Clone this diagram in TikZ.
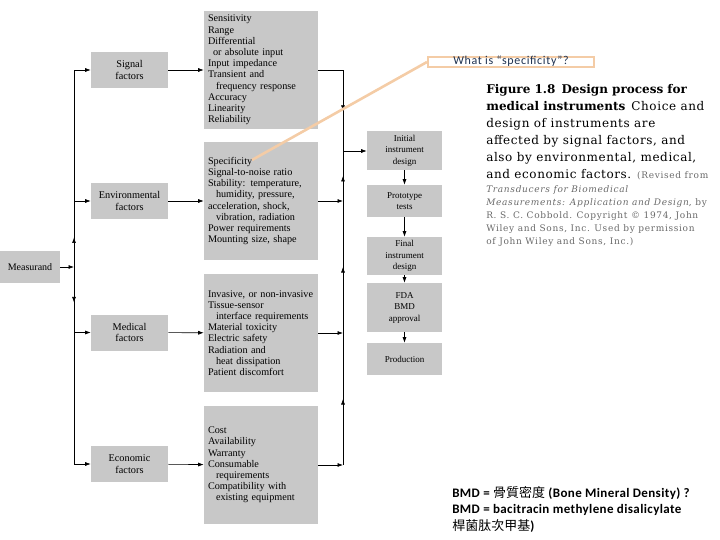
\documentclass[tikz,border=0pt]{standalone}
\usepackage{fontspec}
\setmainfont{Liberation Serif}
\newfontfamily\capfont{DejaVu Serif}
\newfontfamily\capwide{DejaVu Serif}[LetterSpace=5]
\newfontfamily\citefont{DejaVu Serif}[LetterSpace=7.5]
\newfontfamily\notefont{Carlito}[LetterSpace=3]
\newfontfamily\callfont{Carlito}[LetterSpace=5.5]
\newfontfamily\cjk{Noto Sans CJK TC}
\usepackage{tikz}
\usetikzlibrary{arrows.meta}
\usetikzlibrary{decorations.markings}
\definecolor{boxgray}{RGB}{200,200,200}
\definecolor{peach}{RGB}{244,204,166}
\definecolor{navy}{RGB}{31,50,80}
\definecolor{citegray}{RGB}{105,105,105}
\tikzset{
    >={Latex[length=5.5pt,width=4pt]},
    factorbox/.style={fill=boxgray, minimum width=77pt, minimum height=36pt, align=center,
        inner sep=1pt, font=\fontsize{10.3}{11.5}\selectfont},
    listbox/.style={fill=boxgray, minimum width=114pt, minimum height=118pt, text width=110pt,
        align=left, inner xsep=2pt, font=\fontsize{10.2}{11.2}\selectfont},
    stagebox/.style={fill=boxgray, minimum width=75pt, minimum height=#1, align=center,
        inner sep=1pt, font=\fontsize{9}{11.5}\selectfont},
    link/.style={line width=0.6pt},
    ->-/.style={decoration={markings, mark=at position #1 with {\arrow{>}}},
        postaction={decorate}},
    ->-/.default=.5}

\begin{document}
\begin{tikzpicture}[x=1pt, y=-1pt, link]
        \useasboundingbox (0,0) rectangle (720,540);

                    \node[fill=boxgray, minimum width=60pt, minimum height=32pt, font=\fontsize{10}{11}\selectfont] (measurand) at (30,267) {Measurand};

                    \node[factorbox] (sig) at (129.5,70) {Signal\\factors};
                    \node[factorbox] (env) at (129.5,201) {Environmental\\factors};
                    \node[factorbox] (med) at (129.5,332.5) {Medical\\factors};
                    \node[factorbox] (eco) at (129.5,464) {Economic\\factors};

                    \node[listbox] (sigl) at (261,70) {\hspace*{2pt}Sensitivity\\\hspace*{2pt}Range\\\hspace*{2pt}Differential\\\hspace*{7pt}or absolute input\\\hspace*{2pt}Input impedance\\\hspace*{2pt}Transient and\\\hspace*{10pt}frequency response\\\hspace*{2pt}Accuracy\\\hspace*{2pt}Linearity\\\hspace*{2pt}Reliability};
                    \node[listbox] (envl) at (261,201) {\hspace*{2pt}Specificity\\\hspace*{2pt}Signal-to-noise ratio\\\hspace*{2pt}Stability: temperature,\\\hspace*{10pt}humidity, pressure,\\\hspace*{2pt}acceleration, shock,\\\hspace*{10pt}vibration, radiation\\\hspace*{2pt}Power requirements\\\hspace*{2pt}Mounting size, shape};
                    \node[listbox] (medl) at (261,333) {\hspace*{2pt}Invasive, or non-invasive\\\hspace*{2pt}Tissue-sensor\\\hspace*{10pt}interface requirements\\\hspace*{2pt}Material toxicity\\\hspace*{2pt}Electric safety\\\hspace*{2pt}Radiation and\\\hspace*{10pt}heat dissipation\\\hspace*{2pt}Patient discomfort};
                    \node[listbox] (ecol) at (261,465) {\hspace*{2pt}Cost\\\hspace*{2pt}Availability\\\hspace*{2pt}Warranty\\\hspace*{2pt}Consumable\\\hspace*{10pt}requirements\\\hspace*{2pt}Compatibility with\\\hspace*{10pt}existing equipment};

                    \node[stagebox=39pt] (init) at (404.5,150.5) {Initial\\instrument\\design};
                    \node[stagebox=32pt] (proto) at (404.5,201) {Prototype\\tests};
                    \node[stagebox=38pt] (final) at (404.5,256) {Final\\instrument\\design};
                    \node[stagebox=49pt] (fda) at (404.5,307.5) {FDA\\BMD\\approval};
                    \node[stagebox=32pt] (prod) at (404.5,359) {Production};

                    \coordinate (mjoin) at (74,267);
                    \coordinate (ltop) at (74,70);
                    \coordinate (lbot) at (74,464);
                    \coordinate (rtop) at (343,70);
                    \coordinate (rbus) at (343,151);

                    \draw[->] (measurand) -- (mjoin);
                    \draw[->-=.15] (mjoin) -- (ltop);
                    \draw[->-=.18] (mjoin) -- (lbot);
                    \foreach \f in {sig,env,med,eco}
                        \draw[->] (\f.west -| ltop) -- (\f.west);
                    \draw[->] (sig) -- (sigl);
                    \draw[->] (env) -- (envl);
                    \draw[->] (med) -- (medl);
                    \draw[->] (eco) -- (ecol);

                    \draw[->-=.62] (sigl.east |- rtop) -- (rtop) -- (rbus);
                    \draw[->] (envl.east) -- (envl.east -| rbus);
                    \draw[->] (medl.east) -- (medl.east -| rbus);
                    \draw[->] (ecol.east) -- (ecol.east -| rbus);
                    \draw[->-] (ecol.east -| rbus) -- (medl.east -| rbus);
                    \draw[->-] (medl.east -| rbus) -- (envl.east -| rbus);
                    \draw[->-] (envl.east -| rbus) -- (rbus);
                    \draw[->] (rbus) -- (init.west |- rbus);

                    \draw[->] (init) -- (proto);
                    \draw[->] (proto) -- (final);
                    \draw[->] (final) -- (fda);
                    \draw[->] (fda) -- (prod);

                    \node[draw=peach, line width=2pt, fill=white, minimum width=166pt, minimum height=10pt, inner sep=0pt,
                        text height=8pt, text depth=2pt, text=navy, font=\callfont\fontsize{12}{12}\selectfont] (callout) at (511,62) {What is “specificity”?};
                    \coordinate (spec) at (252,160);
                    \draw[peach, line width=2.6pt] (spec) -- (callout.west);

                    \node[anchor=north west, inner sep=0pt, align=left, font=\capwide\fontsize{12}{17}\selectfont] (caption) at (486,84)
                        {{\capfont\bfseries Figure 1.8\enspace Design process for}\\
                         {\capfont\bfseries medical instruments}\enspace Choice and\\
                         design of instruments are\\
                         affected by signal factors, and\\
                         also by environmental, medical,\\
                         and economic factors. {\citefont\color{citegray}\fontsize{9}{13}\selectfont (Revised from}};
                    \node[anchor=north west, inner sep=0pt, align=left, text=citegray, font=\citefont\fontsize{9}{13.2}\selectfont] (cite) at (486,185)
                        {\textit{Transducers for Biomedical}\\
                         \textit{Measurements: Application and Design}, by\\
                         R. S. C. Cobbold.\enspace Copyright © 1974, John\\
                         Wiley and Sons, Inc.\enspace Used by permission\\
                         of John Wiley and Sons, Inc.)};

                    \node[anchor=north west, inner sep=0pt, align=left, font=\notefont\bfseries\fontsize{13}{16.5}\selectfont] (bmd) at (452,486)
                        {BMD = {\cjk\mdseries 骨質密度} (Bone Mineral Density) ?\\
                         BMD = bacitracin methylene disalicylate\\
                         {\cjk\mdseries 桿菌肽次甲基})};

                \end{tikzpicture}
\end{document}
